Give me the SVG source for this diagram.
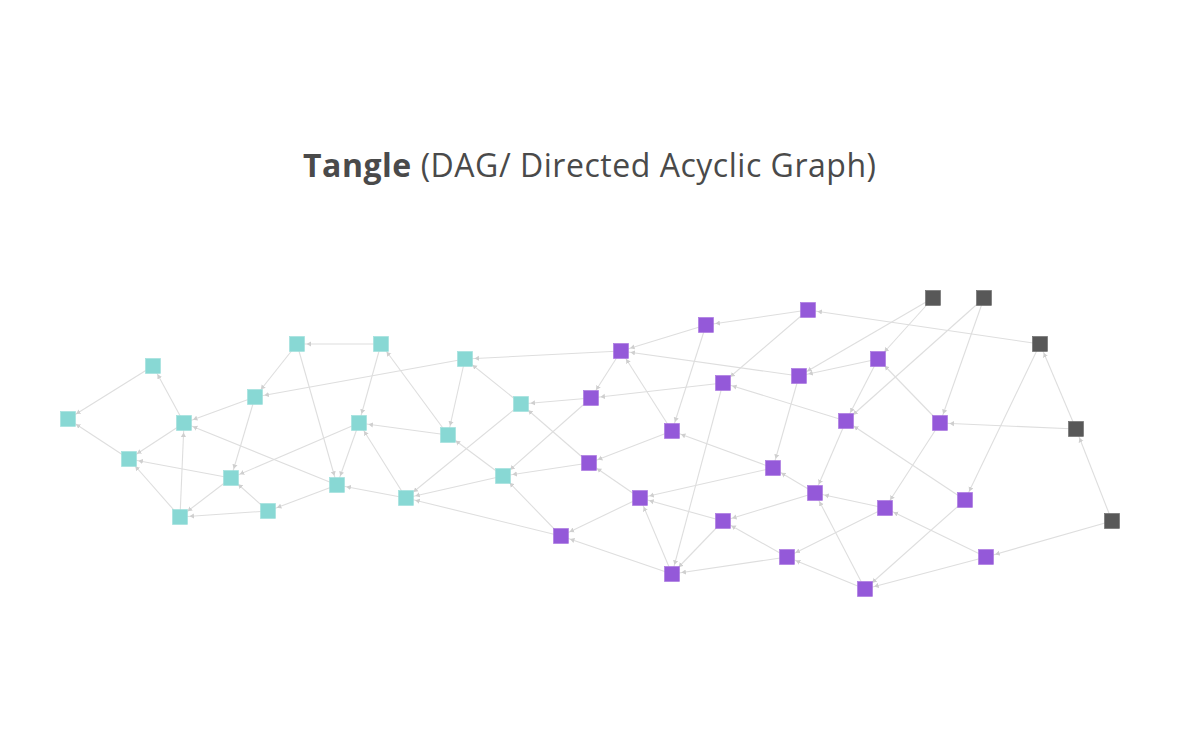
<svg xmlns="http://www.w3.org/2000/svg" width="1200" height="750" viewBox="0 0 1200 750">
<style>
.title{font-family:"Open Sans","Liberation Sans",sans-serif;font-size:32px;fill:#4a4a4a}
.e line{stroke:#dedede;stroke-width:1.1}
.t{fill:#88d8d4;stroke:#9fe0dc;stroke-width:0.6}
.p{fill:#9459d9;stroke:#a874e0;stroke-width:0.6}
.g{fill:#585858;stroke:#6a6a6a;stroke-width:0.6}
</style>
<defs>
<marker id="a" viewBox="0 -3 14 6" refX="14" refY="0" markerWidth="14" markerHeight="6" markerUnits="userSpaceOnUse" orient="auto">
<path d="M0,-2.6 L4.5,0 L0,2.6 z" fill="#cfcfcf"/>
</marker>
</defs>
<rect width="1200" height="750" fill="#ffffff"/>
<text class="title" x="303" y="177" textLength="573" lengthAdjust="spacing"><tspan font-weight="bold">Tangle</tspan> (DAG/ Directed Acyclic Graph)</text>
<g id="connectors" class="e" marker-end="url(#a)">
<line x1="153" y1="366" x2="68" y2="419"/>
<line x1="129" y1="459" x2="68" y2="419"/>
<line x1="184" y1="423" x2="153" y2="366"/>
<line x1="180" y1="517" x2="184" y2="423"/>
<line x1="255" y1="397" x2="184" y2="423"/>
<line x1="337" y1="485" x2="184" y2="423"/>
<line x1="184" y1="423" x2="129" y2="459"/>
<line x1="180" y1="517" x2="129" y2="459"/>
<line x1="231" y1="478" x2="129" y2="459"/>
<line x1="231" y1="478" x2="180" y2="517"/>
<line x1="268" y1="511" x2="180" y2="517"/>
<line x1="268" y1="511" x2="231" y2="478"/>
<line x1="255" y1="397" x2="231" y2="478"/>
<line x1="359" y1="423" x2="231" y2="478"/>
<line x1="337" y1="485" x2="268" y2="511"/>
<line x1="297" y1="344" x2="255" y2="397"/>
<line x1="465" y1="359" x2="255" y2="397"/>
<line x1="381" y1="344" x2="297" y2="344"/>
<line x1="297" y1="344" x2="337" y2="485"/>
<line x1="448" y1="435" x2="381" y2="344"/>
<line x1="381" y1="344" x2="359" y2="423"/>
<line x1="406" y1="498" x2="359" y2="423"/>
<line x1="448" y1="435" x2="359" y2="423"/>
<line x1="359" y1="423" x2="337" y2="485"/>
<line x1="406" y1="498" x2="337" y2="485"/>
<line x1="521" y1="404" x2="406" y2="498"/>
<line x1="503" y1="476" x2="406" y2="498"/>
<line x1="561" y1="536" x2="406" y2="498"/>
<line x1="465" y1="359" x2="448" y2="435"/>
<line x1="503" y1="476" x2="448" y2="435"/>
<line x1="621" y1="351" x2="465" y2="359"/>
<line x1="521" y1="404" x2="465" y2="359"/>
<line x1="591" y1="398" x2="521" y2="404"/>
<line x1="589" y1="463" x2="521" y2="404"/>
<line x1="591" y1="398" x2="503" y2="476"/>
<line x1="589" y1="463" x2="503" y2="476"/>
<line x1="561" y1="536" x2="503" y2="476"/>
<line x1="706" y1="325" x2="621" y2="351"/>
<line x1="799" y1="376" x2="621" y2="351"/>
<line x1="672" y1="431" x2="621" y2="351"/>
<line x1="621" y1="351" x2="591" y2="398"/>
<line x1="808" y1="310" x2="706" y2="325"/>
<line x1="706" y1="325" x2="672" y2="431"/>
<line x1="723" y1="383" x2="591" y2="398"/>
<line x1="808" y1="310" x2="723" y2="383"/>
<line x1="846" y1="421" x2="723" y2="383"/>
<line x1="723" y1="383" x2="672" y2="574"/>
<line x1="933" y1="298" x2="799" y2="376"/>
<line x1="878" y1="359" x2="799" y2="376"/>
<line x1="799" y1="376" x2="773" y2="468"/>
<line x1="933" y1="298" x2="878" y2="359"/>
<line x1="940" y1="423" x2="878" y2="359"/>
<line x1="878" y1="359" x2="846" y2="421"/>
<line x1="773" y1="468" x2="672" y2="431"/>
<line x1="672" y1="431" x2="589" y2="463"/>
<line x1="984" y1="298" x2="846" y2="421"/>
<line x1="965" y1="500" x2="846" y2="421"/>
<line x1="846" y1="421" x2="815" y2="493"/>
<line x1="984" y1="298" x2="940" y2="423"/>
<line x1="1076" y1="429" x2="940" y2="423"/>
<line x1="940" y1="423" x2="885" y2="508"/>
<line x1="640" y1="498" x2="589" y2="463"/>
<line x1="815" y1="493" x2="773" y2="468"/>
<line x1="773" y1="468" x2="640" y2="498"/>
<line x1="723" y1="521" x2="640" y2="498"/>
<line x1="672" y1="574" x2="640" y2="498"/>
<line x1="640" y1="498" x2="561" y2="536"/>
<line x1="885" y1="508" x2="815" y2="493"/>
<line x1="865" y1="589" x2="815" y2="493"/>
<line x1="815" y1="493" x2="723" y2="521"/>
<line x1="986" y1="557" x2="885" y2="508"/>
<line x1="885" y1="508" x2="787" y2="557"/>
<line x1="1040" y1="344" x2="965" y2="500"/>
<line x1="965" y1="500" x2="865" y2="589"/>
<line x1="672" y1="574" x2="561" y2="536"/>
<line x1="787" y1="557" x2="723" y2="521"/>
<line x1="723" y1="521" x2="672" y2="574"/>
<line x1="787" y1="557" x2="672" y2="574"/>
<line x1="865" y1="589" x2="787" y2="557"/>
<line x1="986" y1="557" x2="865" y2="589"/>
<line x1="1112" y1="521" x2="986" y2="557"/>
<line x1="1040" y1="344" x2="808" y2="310"/>
<line x1="1076" y1="429" x2="1040" y2="344"/>
<line x1="1112" y1="521" x2="1076" y2="429"/>
</g>
<g id="nodes">
<g id="T1"><rect class="t" x="60.5" y="411.5" width="15" height="15"/></g>
<g id="T2"><rect class="t" x="145.5" y="358.5" width="15" height="15"/></g>
<g id="T3"><rect class="t" x="176.5" y="415.5" width="15" height="15"/></g>
<g id="T4"><rect class="t" x="121.5" y="451.5" width="15" height="15"/></g>
<g id="T5"><rect class="t" x="172.5" y="509.5" width="15" height="15"/></g>
<g id="T6"><rect class="t" x="223.5" y="470.5" width="15" height="15"/></g>
<g id="T7"><rect class="t" x="260.5" y="503.5" width="15" height="15"/></g>
<g id="T8"><rect class="t" x="247.5" y="389.5" width="15" height="15"/></g>
<g id="T9"><rect class="t" x="289.5" y="336.5" width="15" height="15"/></g>
<g id="T10"><rect class="t" x="373.5" y="336.5" width="15" height="15"/></g>
<g id="T11"><rect class="t" x="351.5" y="415.5" width="15" height="15"/></g>
<g id="T12"><rect class="t" x="329.5" y="477.5" width="15" height="15"/></g>
<g id="T13"><rect class="t" x="398.5" y="490.5" width="15" height="15"/></g>
<g id="T14"><rect class="t" x="440.5" y="427.5" width="15" height="15"/></g>
<g id="T15"><rect class="t" x="457.5" y="351.5" width="15" height="15"/></g>
<g id="T16"><rect class="t" x="513.5" y="396.5" width="15" height="15"/></g>
<g id="T17"><rect class="t" x="495.5" y="468.5" width="15" height="15"/></g>
<g id="P1"><rect class="p" x="613.5" y="343.5" width="15" height="15"/></g>
<g id="P2"><rect class="p" x="698.5" y="317.5" width="15" height="15"/></g>
<g id="P3"><rect class="p" x="800.5" y="302.5" width="15" height="15"/></g>
<g id="P4"><rect class="p" x="583.5" y="390.5" width="15" height="15"/></g>
<g id="P5"><rect class="p" x="715.5" y="375.5" width="15" height="15"/></g>
<g id="P6"><rect class="p" x="791.5" y="368.5" width="15" height="15"/></g>
<g id="P7"><rect class="p" x="870.5" y="351.5" width="15" height="15"/></g>
<g id="P8"><rect class="p" x="664.5" y="423.5" width="15" height="15"/></g>
<g id="P9"><rect class="p" x="838.5" y="413.5" width="15" height="15"/></g>
<g id="P10"><rect class="p" x="932.5" y="415.5" width="15" height="15"/></g>
<g id="P11"><rect class="p" x="581.5" y="455.5" width="15" height="15"/></g>
<g id="P12"><rect class="p" x="765.5" y="460.5" width="15" height="15"/></g>
<g id="P13"><rect class="p" x="632.5" y="490.5" width="15" height="15"/></g>
<g id="P14"><rect class="p" x="807.5" y="485.5" width="15" height="15"/></g>
<g id="P15"><rect class="p" x="877.5" y="500.5" width="15" height="15"/></g>
<g id="P16"><rect class="p" x="957.5" y="492.5" width="15" height="15"/></g>
<g id="P17"><rect class="p" x="553.5" y="528.5" width="15" height="15"/></g>
<g id="P18"><rect class="p" x="715.5" y="513.5" width="15" height="15"/></g>
<g id="P19"><rect class="p" x="664.5" y="566.5" width="15" height="15"/></g>
<g id="P20"><rect class="p" x="779.5" y="549.5" width="15" height="15"/></g>
<g id="P21"><rect class="p" x="857.5" y="581.5" width="15" height="15"/></g>
<g id="P22"><rect class="p" x="978.5" y="549.5" width="15" height="15"/></g>
<g id="G1"><rect class="g" x="925.5" y="290.5" width="15" height="15"/></g>
<g id="G2"><rect class="g" x="976.5" y="290.5" width="15" height="15"/></g>
<g id="G3"><rect class="g" x="1032.5" y="336.5" width="15" height="15"/></g>
<g id="G4"><rect class="g" x="1068.5" y="421.5" width="15" height="15"/></g>
<g id="G5"><rect class="g" x="1104.5" y="513.5" width="15" height="15"/></g>
</g>
</svg>
